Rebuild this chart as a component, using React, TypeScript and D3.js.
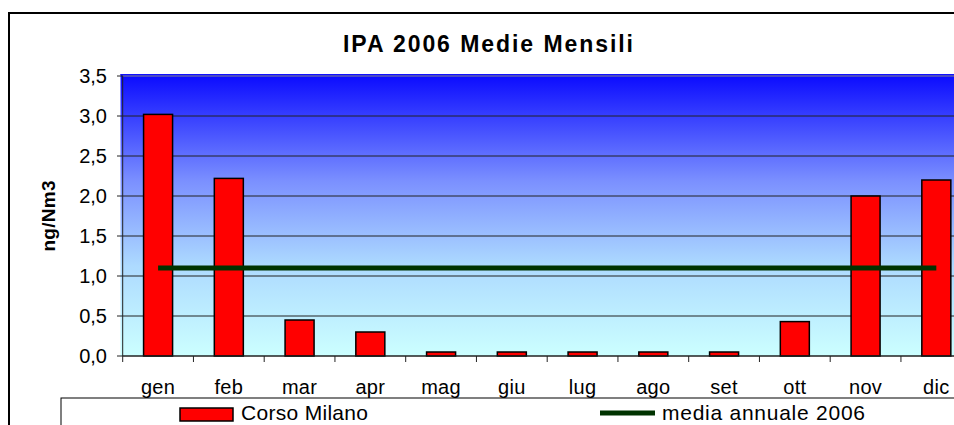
import React from "react";
import * as d3 from "d3";

const months = ["gen", "feb", "mar", "apr", "mag", "giu", "lug", "ago", "set", "ott", "nov", "dic"];
const corsoMilano = [3.02, 2.22, 0.45, 0.3, 0.05, 0.05, 0.05, 0.05, 0.05, 0.43, 2.0, 2.2];
const mediaAnnuale = [1.1, 1.1, 1.1, 1.1, 1.1, 1.1, 1.1, 1.1, 1.1, 1.1, 1.1, 1.1];
const yTicks = [0, 0.5, 1, 1.5, 2, 2.5, 3, 3.5];
const title = "IPA 2006 Medie Mensili";
const yTitle = "ng/Nm3";
const seriesNames = ["Corso Milano", "media annuale 2006"];

const W = 954;
const H = 425;
const FONT = "Arial, 'Liberation Sans', sans-serif";

export default function App() {
  const x = d3.scaleBand<string>().domain(months).range([122.7, 971.7]).paddingInner(0.59).paddingOuter(0.295);
  const xb = d3.scaleBand<string>().domain(months).range([122.7, 971.7]);
  const y = d3.scaleLinear().domain([0, 3.5]).range([356, 76]);
  const fmt = (v: number) => d3.format(".1f")(v).replace(".", ",");
  const line = d3
    .line<number>()
    .x((_, i) => (xb(months[i]) as number) + xb.bandwidth() / 2)
    .y((d) => y(d));

  return (
    <svg width={W} height={H} style={{ position: "fixed", left: 0, top: 0, background: "#fff" }} fontFamily={FONT}>
      <defs>
        <linearGradient id="bg" x1="0" y1="0" x2="0" y2="1">
          <stop offset="0" stopColor="#0a0aff" />
          <stop offset="0.38" stopColor="#7b90ff" />
          <stop offset="0.68" stopColor="#addaff" />
          <stop offset="1" stopColor="#ccffff" />
        </linearGradient>
      </defs>
      {/* outer chart border */}
      <rect x={9} y={13} width={1000} height={600} fill="#fff" stroke="#000" strokeWidth={2} />
      <text x={488} y={52} textAnchor="middle" fontWeight="bold" fontSize={23} textLength={290} lengthAdjust="spacing">
        {title}
      </text>
      {/* plot area */}
      <rect x={120.5} y={74} width={900} height={282} fill="url(#bg)" />
      <line x1={120.5} x2={960} y1={74.5} y2={74.5} stroke="#1010ff" strokeWidth={1} />
      {yTicks.map((t) => (
        <line key={"g" + t} x1={122.7} x2={960} y1={y(t)} y2={y(t)} stroke={t === 3.5 ? "#888" : "#222"} strokeWidth={1} />
      ))}
      {/* y axis */}
      <line x1={122.7} x2={122.7} y1={76} y2={356} stroke="#222" strokeWidth={1} />
      {yTicks.map((t) => (
        <g key={"t" + t}>
          <line x1={117} x2={122.7} y1={y(t)} y2={y(t)} stroke="#222" />
          <text x={107} y={y(t)} dy="0.36em" textAnchor="end" fontSize={20}>
            {fmt(t)}
          </text>
        </g>
      ))}
      <text
        transform={`translate(55,216) rotate(-90)`}
        textAnchor="middle"
        fontWeight="bold"
        fontSize={19}
        textLength={71}
        lengthAdjust="spacing"
      >
        {yTitle}
      </text>
      {/* bars */}
      {corsoMilano.map((v, i) => (
        <rect
          key={"b" + i}
          x={x(months[i])}
          y={y(v)}
          width={x.bandwidth()}
          height={y(0) - y(v)}
          fill="#ff0000"
          stroke="#000"
          strokeWidth={1.5}
        />
      ))}
      {/* x axis */}
      <line x1={122.7} x2={960} y1={356} y2={356} stroke="#222" />
      {months.map((m) => (
        <g key={"x" + m}>
          <line x1={xb(m) as number} x2={xb(m) as number} y1={356} y2={362} stroke="#222" />
          <text x={(xb(m) as number) + xb.bandwidth() / 2} y={394} textAnchor="middle" fontSize={20} letterSpacing={0.3}>
            {m}
          </text>
        </g>
      ))}
      {/* mean line */}
      <path d={line(mediaAnnuale) as string} fill="none" stroke="#003300" strokeWidth={5} />
      {/* legend */}
      <rect x={61} y={398} width={1000} height={100} fill="#fff" stroke="#000" strokeWidth={1} />
      <rect x={180} y={408} width={53} height={13} fill="#ff0000" stroke="#000" strokeWidth={1.5} />
      <text x={241} y={420} fontSize={21} textLength={127} lengthAdjust="spacing">
        {seriesNames[0]}
      </text>
      <line x1={600} x2={655} y1={413} y2={413} stroke="#003300" strokeWidth={5} />
      <text x={662} y={420} fontSize={21} textLength={203} lengthAdjust="spacing">
        {seriesNames[1]}
      </text>
    </svg>
  );
}
